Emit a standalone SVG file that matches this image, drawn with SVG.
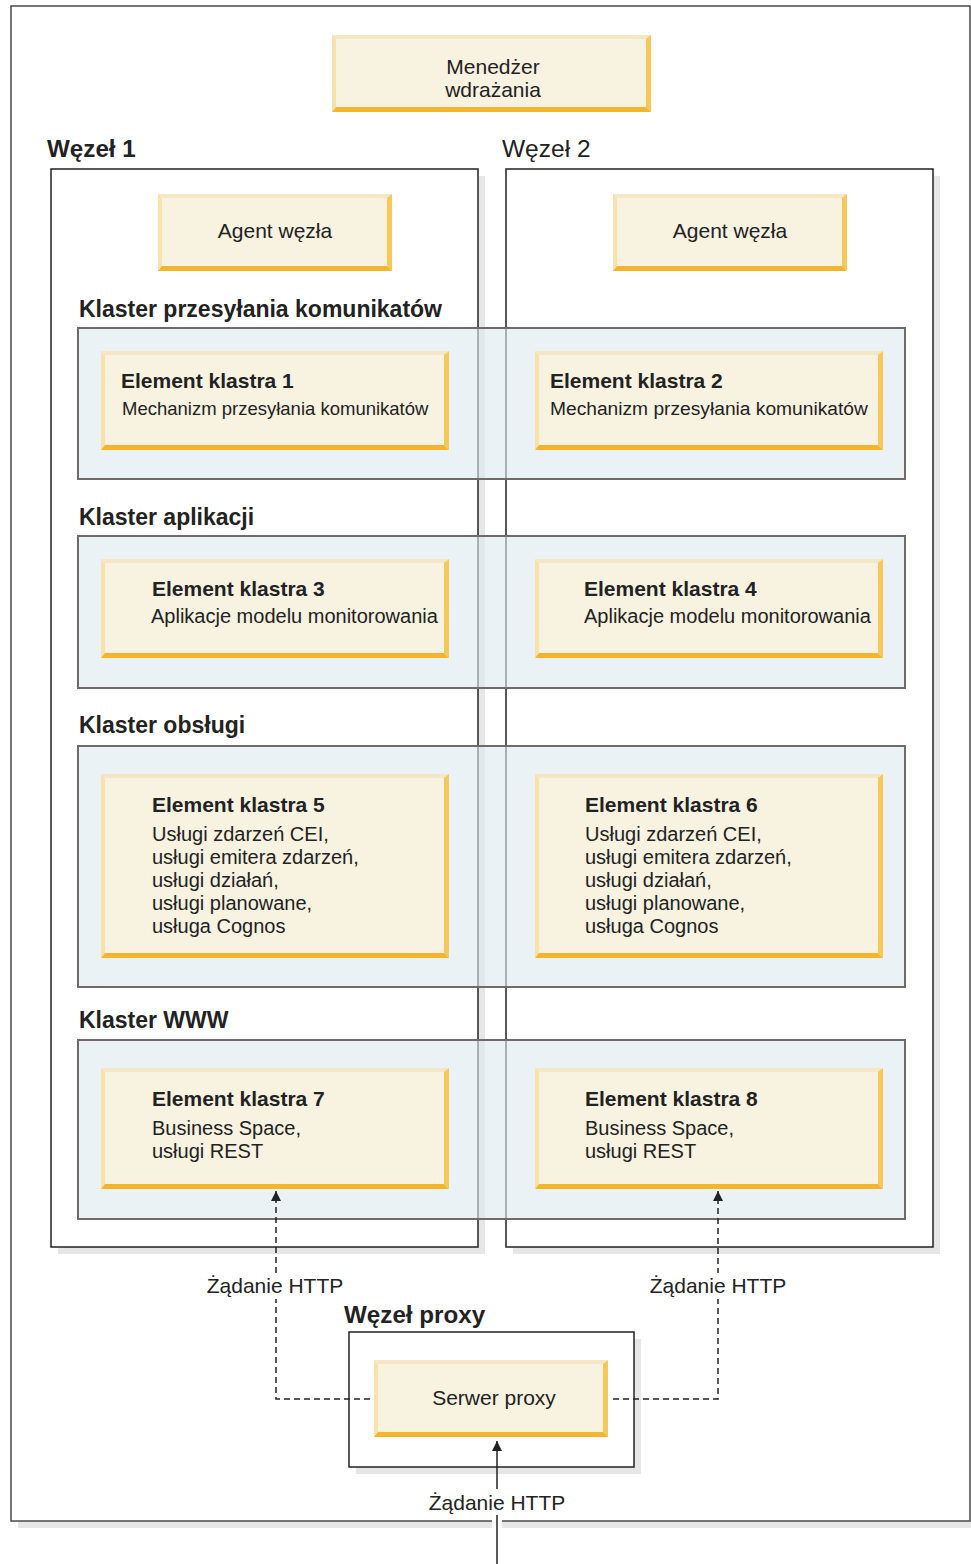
<svg xmlns="http://www.w3.org/2000/svg" xmlns:xlink="http://www.w3.org/1999/xlink" width="971" height="1564" viewBox="0 0 971 1564">
<style>
text{font-family:"Liberation Sans",Arial,Helvetica,sans-serif;fill:#222}
.t21{font-size:21px}
.t20{font-size:20px}
.t185{font-size:18.5px}
.b21{font-size:21px;font-weight:bold}
.b23{font-size:23px;font-weight:bold}
.bw{font-size:24.2px;font-weight:bold}
.r23{font-size:24.5px}
.mid{text-anchor:middle}
.fill{fill:#f8f2e0}
.bt{fill:#f5e7c6}
.bl{fill:#f8e2aa}
.br{fill:#f6c859}
.bb{fill:#f4b52e}
.shadow{fill:#e6e6e6}
.frame{fill:#fff;stroke:#222;stroke-width:1.5}
.cluster{fill:rgb(223,234,239);fill-opacity:0.61;stroke:#716a68;stroke-width:2}
.conn{fill:none;stroke:#222;stroke-width:1.5}
.dash{stroke-dasharray:6 4}
</style>
<defs>
<marker id="arr" markerUnits="userSpaceOnUse" markerWidth="10" markerHeight="10" refX="10" refY="5" orient="auto">
<path d="M0,0L10,5L0,10Z" fill="#222"/>
</marker>
<g id="b319x77"><rect class="fill" width="319" height="77"/><path class="bt" d="M0,0H319L315,4H4Z"/><path class="bl" d="M0,0L4,4V72L0,77Z"/><path class="br" d="M319,0V77L314,72V4Z"/><path class="bb" d="M0,77H319L314,72H4Z"/></g>
<g id="b234x77"><rect class="fill" width="234" height="77"/><path class="bt" d="M0,0H234L230,4H4Z"/><path class="bl" d="M0,0L4,4V72L0,77Z"/><path class="br" d="M234,0V77L229,72V4Z"/><path class="bb" d="M0,77H234L229,72H4Z"/></g>
<g id="b348x99"><rect class="fill" width="348" height="99"/><path class="bt" d="M0,0H348L344,4H4Z"/><path class="bl" d="M0,0L4,4V94L0,99Z"/><path class="br" d="M348,0V99L343,94V4Z"/><path class="bb" d="M0,99H348L343,94H4Z"/></g>
<g id="b348x184"><rect class="fill" width="348" height="184"/><path class="bt" d="M0,0H348L344,4H4Z"/><path class="bl" d="M0,0L4,4V179L0,184Z"/><path class="br" d="M348,0V184L343,179V4Z"/><path class="bb" d="M0,184H348L343,179H4Z"/></g>
<g id="b348x121"><rect class="fill" width="348" height="121"/><path class="bt" d="M0,0H348L344,4H4Z"/><path class="bl" d="M0,0L4,4V116L0,121Z"/><path class="br" d="M348,0V121L343,116V4Z"/><path class="bb" d="M0,121H348L343,116H4Z"/></g>
</defs>
<rect width="971" height="1564" fill="#fff"/>
<g id="outer">
<rect class="shadow" x="18" y="1521" width="953" height="7"/>
<rect x="11" y="6" width="959" height="1515" fill="#fff" stroke="#4a4a4a" stroke-width="1.5"/>
</g>
<g id="manager">
<use xlink:href="#b319x77" x="332" y="35"/>
<text class="t21 mid" x="493" y="74">Menedżer</text>
<text class="t21 mid" x="493" y="97">wdrażania</text>
</g>
<g id="node1">
<rect class="shadow" x="58" y="176" width="427" height="1078"/>
<rect class="frame" x="51" y="169" width="427" height="1078"/>
<text class="bw" x="47" y="157">Węzeł 1</text>
</g>
<g id="node2">
<rect class="shadow" x="513" y="176" width="427" height="1078"/>
<rect class="frame" x="506" y="169" width="427" height="1078"/>
<text class="r23" x="502" y="157">Węzeł 2</text>
</g>
<g id="agent1">
<use xlink:href="#b234x77" x="158" y="194"/>
<text class="t21 mid" x="275" y="238">Agent węzła</text>
</g>
<g id="agent2">
<use xlink:href="#b234x77" x="613" y="194"/>
<text class="t21 mid" x="730" y="238">Agent węzła</text>
</g>
<g id="cluster-msg">
<text class="b23" x="79" y="317">Klaster przesyłania komunikatów</text>
<rect class="cluster" x="78" y="328" width="827" height="151"/>
</g>
<g id="cluster-app">
<text class="b23" x="79" y="525">Klaster aplikacji</text>
<rect class="cluster" x="78" y="536" width="827" height="152"/>
</g>
<g id="cluster-svc">
<text class="b23" x="79" y="733">Klaster obsługi</text>
<rect class="cluster" x="78" y="746" width="827" height="241"/>
</g>
<g id="cluster-www">
<text class="b23" x="79" y="1028">Klaster WWW</text>
<rect class="cluster" x="78" y="1040" width="827" height="179"/>
</g>
<g id="member1">
<use xlink:href="#b348x99" x="101" y="351"/>
<text class="b21" x="121" y="388">Element klastra 1</text>
<text class="t185" x="122" y="415">Mechanizm przesyłania komunikatów</text>
</g>
<g id="member2">
<use xlink:href="#b348x99" x="535" y="351"/>
<text class="b21" x="550" y="388">Element klastra 2</text>
<text class="t185" x="550" y="415" style="font-size:19.2px">Mechanizm przesyłania komunikatów</text>
</g>
<g id="member3">
<use xlink:href="#b348x99" x="101" y="559"/>
<text class="b21" x="152" y="596">Element klastra 3</text>
<text class="t20" x="151" y="623">Aplikacje modelu monitorowania</text>
</g>
<g id="member4">
<use xlink:href="#b348x99" x="535" y="559"/>
<text class="b21" x="584" y="596">Element klastra 4</text>
<text class="t20" x="584" y="623">Aplikacje modelu monitorowania</text>
</g>
<g id="member5">
<use xlink:href="#b348x184" x="101" y="774"/>
<text class="b21" x="152" y="812">Element klastra 5</text>
<text class="t20" x="152" y="841">Usługi zdarzeń CEI,</text>
<text class="t20" x="152" y="864">usługi emitera zdarzeń,</text>
<text class="t20" x="152" y="887">usługi działań,</text>
<text class="t20" x="152" y="910">usługi planowane,</text>
<text class="t20" x="152" y="933">usługa Cognos</text>
</g>
<g id="member6">
<use xlink:href="#b348x184" x="535" y="774"/>
<text class="b21" x="585" y="812">Element klastra 6</text>
<text class="t20" x="585" y="841">Usługi zdarzeń CEI,</text>
<text class="t20" x="585" y="864">usługi emitera zdarzeń,</text>
<text class="t20" x="585" y="887">usługi działań,</text>
<text class="t20" x="585" y="910">usługi planowane,</text>
<text class="t20" x="585" y="933">usługa Cognos</text>
</g>
<g id="member7">
<use xlink:href="#b348x121" x="101" y="1068"/>
<text class="b21" x="152" y="1106">Element klastra 7</text>
<text class="t20" x="152" y="1135">Business Space,</text>
<text class="t20" x="152" y="1158">usługi REST</text>
</g>
<g id="member8">
<use xlink:href="#b348x121" x="535" y="1068"/>
<text class="b21" x="585" y="1106">Element klastra 8</text>
<text class="t20" x="585" y="1135">Business Space,</text>
<text class="t20" x="585" y="1158">usługi REST</text>
</g>
<g id="proxynode">
<rect class="shadow" x="356" y="1339" width="285" height="135"/>
<rect class="frame" x="349" y="1332" width="285" height="135"/>
<text class="bw" x="344" y="1323">Węzeł proxy</text>
</g>
<g id="connectors">
<path class="conn dash" d="M370,1399H276V1191" marker-end="url(#arr)"/>
<path class="conn dash" d="M613,1399H718V1191" marker-end="url(#arr)"/>
<rect x="492" y="1514" width="10" height="14" fill="#fff"/>
<path class="conn" d="M497,1564V1441" marker-end="url(#arr)"/>
<rect x="205" y="1273" width="142" height="26" fill="#fff"/>
<text class="t21 mid" x="275" y="1293">Żądanie HTTP</text>
<rect x="647" y="1273" width="142" height="26" fill="#fff"/>
<text class="t21 mid" x="718" y="1293">Żądanie HTTP</text>
<rect x="426" y="1489" width="142" height="26" fill="#fff"/>
<text class="t21 mid" x="497" y="1510">Żądanie HTTP</text>
</g>
<g id="proxyserver">
<use xlink:href="#b234x77" x="374" y="1360"/>
<text class="t21 mid" x="494" y="1405">Serwer proxy</text>
</g>
</svg>
